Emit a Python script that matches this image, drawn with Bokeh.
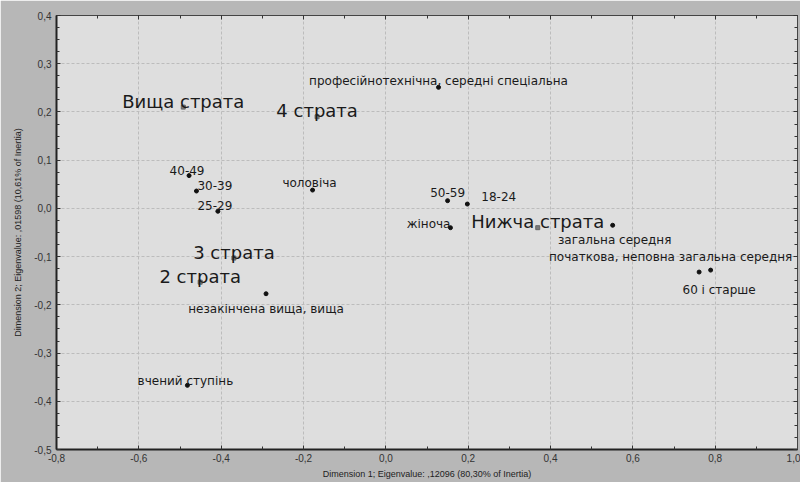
from bokeh.plotting import figure
from bokeh.models import ColumnDataSource, LinearAxis, FixedTicker, Range1d, CustomJSTickFormatter
from bokeh.embed import file_html
from bokeh.resources import INLINE
from bokeh.core.properties import value

# ---------------- data ----------------
cat_labels = [
    "професійнотехнічна, середні спеціальна",
    "40-49",
    "30-39",
    "25-29",
    "чоловіча",
    "50-59",
    "18-24",
    "жіноча",
    "загальна середня",
    "незакінчена вища, вища",
    "вчений ступінь",
    "60 і старше",
    "початкова, неповна загальна середня",
]
cat_dim1 = [0.128, -0.478, -0.460, -0.408, -0.178, 0.150, 0.198, 0.157, 0.551, -0.291, -0.482, 0.761, 0.789]
cat_dim2 = [0.251, 0.068, 0.036, -0.006, 0.038, 0.016, 0.009, -0.040, -0.035, -0.177, -0.367, -0.132, -0.128]

strata_labels = ["Вища страта", "4 страта", "3 страта", "2 страта", "Нижча страта"]
strata_dim1 = [-0.492, -0.167, -0.369, -0.451, 0.369]
strata_dim2 = [0.210, 0.190, -0.103, -0.153, -0.040]

x_ticks = [-0.8, -0.6, -0.4, -0.2, 0.0, 0.2, 0.4, 0.6, 0.8, 1.0]
x_tick_labels = ["-0,8", "-0,6", "-0,4", "-0,2", "0,0", "0,2", "0,4", "0,6", "0,8", "1,0"]
y_ticks = [-0.5, -0.4, -0.3, -0.2, -0.1, 0.0, 0.1, 0.2, 0.3, 0.4]
y_tick_labels = ["-0,5", "-0,4", "-0,3", "-0,2", "-0,1", "0,0", "0,1", "0,2", "0,3", "0,4"]

x_title = "Dimension 1; Eigenvalue: ,12096 (80,30% of Inertia)"
y_title = "Dimension 2; Eigenvalue: ,01598 (10,61% of Inertia)"

# ---------------- label layout (pixels, style only) ----------------
cat_align = ["center", "center", "left", "center", "center", "center", "left", "right",
             "center", "center", "center", "center", "center"]
cat_dx = [0, -2, 1, -3, -3, 0, 14, 0, 2, 0, -2, 20, -40]
cat_dy = [-6, -5, -6, -6, -7, -8, -8, -4, 15, 15, -4, 18, -13]

# ---------------- figure ----------------
p = figure(width=800, height=482, output_backend="svg", toolbar_location=None,
           x_range=Range1d(-0.8, 1.0), y_range=Range1d(-0.5, 0.4),
           min_border_left=56, min_border_right=3, min_border_top=15, min_border_bottom=33)
p.background_fill_color = "#dedede"
p.border_fill_color = "#b7b7b7"
p.outline_line_color = "#444444"
p.outline_line_width = 1

minor_x = [round(-0.8 + 0.1 * i, 2) for i in range(19)]
minor_y = [round(-0.5 + 0.025 * i, 3) for i in range(37)]

bottom = p.xaxis[0]
left = p.yaxis[0]

bottom.ticker = FixedTicker(ticks=x_ticks, minor_ticks=minor_x)
bottom.major_label_overrides = {t: l for t, l in zip(x_ticks, x_tick_labels)}
left.ticker = FixedTicker(ticks=y_ticks, minor_ticks=minor_y)
left.major_label_overrides = {t: l for t, l in zip(y_ticks, y_tick_labels)}

blank = CustomJSTickFormatter(code="return '';")
top = LinearAxis(ticker=FixedTicker(ticks=x_ticks, minor_ticks=minor_x), formatter=blank)
right = LinearAxis(ticker=FixedTicker(ticks=y_ticks, minor_ticks=minor_y), formatter=blank)
p.add_layout(top, "above")
p.add_layout(right, "right")

for ax in (bottom, left):
    ax.axis_line_color = "#222222"
    ax.axis_line_width = 2
    ax.major_label_text_font = "Liberation Sans"
    ax.major_label_text_font_size = "10px"
    ax.major_label_text_color = "#333333"
    ax.axis_label_text_font = "Liberation Sans"
    ax.axis_label_text_font_size = "9px"
    ax.axis_label_text_font_style = "normal"
    ax.axis_label_text_color = "#222222"

for ax in (bottom, left, top, right):
    ax.major_tick_in = 4
    ax.major_tick_out = 0
    ax.minor_tick_in = 3
    ax.minor_tick_out = 0
    ax.major_tick_line_color = "#333333"
    ax.minor_tick_line_color = "#333333"

for ax in (top, right):
    ax.axis_line_color = "#444444"
    ax.axis_line_width = 1
    ax.major_label_standoff = 0

bottom.axis_label = x_title
left.axis_label = y_title
bottom.major_label_standoff = 4
left.major_label_standoff = 5
bottom.axis_label_standoff = 4
left.axis_label_standoff = 8

p.xgrid.ticker = FixedTicker(ticks=x_ticks)
p.ygrid.ticker = FixedTicker(ticks=y_ticks)
p.grid.grid_line_color = "#bcbcbc"
p.grid.grid_line_dash = "3 2"
p.grid.grid_line_width = 1

cat_src = ColumnDataSource(dict(x=cat_dim1, y=cat_dim2, label=cat_labels,
                                align=cat_align, dx=cat_dx, dy=cat_dy))
str_src = ColumnDataSource(dict(x=strata_dim1, y=strata_dim2, label=strata_labels))

p.scatter(x="x", y="y", source=cat_src, marker="circle", size=4,
          fill_color="#111111", line_color="#111111")
p.scatter(x="x", y="y", source=str_src, marker="square", size=4,
          fill_color="#7a7a7a", line_color="#666666")

p.text(x="x", y="y", text="label", source=cat_src, text_align="align",
       x_offset="dx", y_offset="dy", text_baseline="alphabetic",
       text_font=value("DejaVu Sans"), text_font_size="12px", text_color="#1a1a1a")
p.text(x="x", y="y", text="label", source=str_src, text_align="center",
       y_offset=-6, text_baseline="alphabetic",
       text_font=value("DejaVu Sans"), text_font_size="18px", text_color="#1a1a1a")

open("out.html", "w").write(file_html(p, INLINE))
